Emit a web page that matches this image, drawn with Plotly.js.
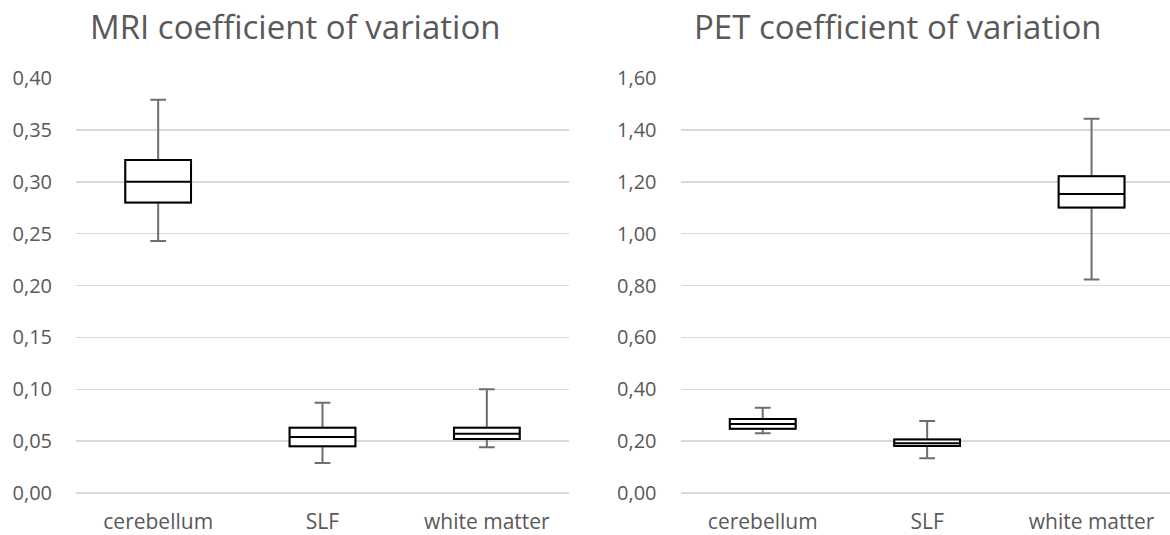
<!DOCTYPE html>
<html>
<head>
<meta charset="utf-8">
<script src="https://cdn.plot.ly/plotly-3.0.1.min.js"></script>
<style>html,body{margin:0;padding:0;background:#fff;}#chart{width:1170px;height:535px;}</style>
</head>
<body>
<div id="chart"></div>
<script>
var categories = ["cerebellum", "SLF", "white matter"];

var mriLower  = [0.243, 0.029, 0.044];
var mriQ1     = [0.280, 0.045, 0.052];
var mriMedian = [0.300, 0.054, 0.057];
var mriQ3     = [0.321, 0.063, 0.063];
var mriUpper  = [0.379, 0.087, 0.100];

var petLower  = [0.230, 0.134, 0.823];
var petQ1     = [0.248, 0.181, 1.101];
var petMedian = [0.266, 0.192, 1.153];
var petQ3     = [0.285, 0.206, 1.221];
var petUpper  = [0.329, 0.278, 1.443];

var mriTicks = [0, 0.05, 0.10, 0.15, 0.20, 0.25, 0.30, 0.35, 0.40];
var mriTickText = ["0,00","0,05","0,10","0,15","0,20","0,25","0,30","0,35","0,40"];
var petTicks = [0, 0.2, 0.4, 0.6, 0.8, 1.0, 1.2, 1.4, 1.6];
var petTickText = ["0,00","0,20","0,40","0,60","0,80","1,00","1,20","1,40","1,60"];

var whiskerColor = "#6e6e6e";
var textColor = "#595959";
var gridColor = "#d9d9d9";

function boxPair(lo, q1, med, q3, hi, xa, ya) {
  var common = {
    type: "box", x: categories, xaxis: xa, yaxis: ya,
    width: 0.4, whiskerwidth: 0.24, boxpoints: false,
    fillcolor: "#ffffff", hoverinfo: "skip", showlegend: false
  };
  var a = Object.assign({}, common, {
    q1: q1, median: med, q3: q3, lowerfence: lo, upperfence: hi,
    line: {color: whiskerColor, width: 2}
  });
  var b = Object.assign({}, common, {
    q1: q1, median: med, q3: q3, lowerfence: q1, upperfence: q3,
    line: {color: "#000000", width: 2}
  });
  return [a, b];
}

var data = [].concat(
  boxPair(mriLower, mriQ1, mriMedian, mriQ3, mriUpper, "x", "y"),
  boxPair(petLower, petQ1, petMedian, petQ3, petUpper, "x2", "y2")
);

var W = 1170, H = 535, mTop = 77.7, mBottom = 42.3;
var plotH = H - mTop - mBottom;
function py(pix) { return (H - mBottom - pix) / plotH; }

var yFont = {family: "Open Sans, sans-serif", size: 20, color: textColor};
var xFont = {family: "Open Sans, sans-serif", size: 21, color: textColor};

var layout = {
  width: W, height: H,
  margin: {l: 0, r: 0, t: mTop, b: mBottom, pad: 0},
  paper_bgcolor: "#ffffff", plot_bgcolor: "#ffffff",
  boxmode: "overlay",
  xaxis: {
    domain: [76 / W, 569 / W], type: "category", range: [-0.5, 2.5],
    showgrid: false, zeroline: false, showline: false, ticks: "",
    tickfont: xFont, ticklabelstandoff: 14, fixedrange: true
  },
  yaxis: {
    range: [0, 0.4], tickvals: mriTicks, ticktext: mriTickText,
    showgrid: true, gridcolor: gridColor, gridwidth: 1.5,
    zeroline: true, zerolinecolor: gridColor, zerolinewidth: 1.5,
    showline: false, ticks: "", tickfont: yFont, ticklabelstandoff: 23,
    fixedrange: true
  },
  xaxis2: {
    domain: [680.5 / W, 1], type: "category", range: [-0.5, 2.477], anchor: "y2",
    showgrid: false, zeroline: false, showline: false, ticks: "",
    tickfont: xFont, ticklabelstandoff: 14, fixedrange: true
  },
  yaxis2: {
    range: [0, 1.6], tickvals: petTicks, ticktext: petTickText, anchor: "x2",
    showgrid: true, gridcolor: gridColor, gridwidth: 1.5,
    zeroline: true, zerolinecolor: gridColor, zerolinewidth: 1.5,
    showline: false, ticks: "", tickfont: yFont, ticklabelstandoff: 23,
    fixedrange: true
  },
  annotations: [
    {text: "MRI coefficient of variation", xref: "paper", yref: "paper",
     x: 294.5 / W, y: py(26), xanchor: "center", yanchor: "middle", showarrow: false,
     font: {family: "Open Sans, sans-serif", size: 33, color: textColor}},
    {text: "PET coefficient of variation", xref: "paper", yref: "paper",
     x: 898 / W, y: py(26), xanchor: "center", yanchor: "middle", showarrow: false,
     font: {family: "Open Sans, sans-serif", size: 33, color: textColor}}
  ]
};

Plotly.newPlot("chart", data, layout, {displayModeBar: false, staticPlot: true});
</script>
</body>
</html>
